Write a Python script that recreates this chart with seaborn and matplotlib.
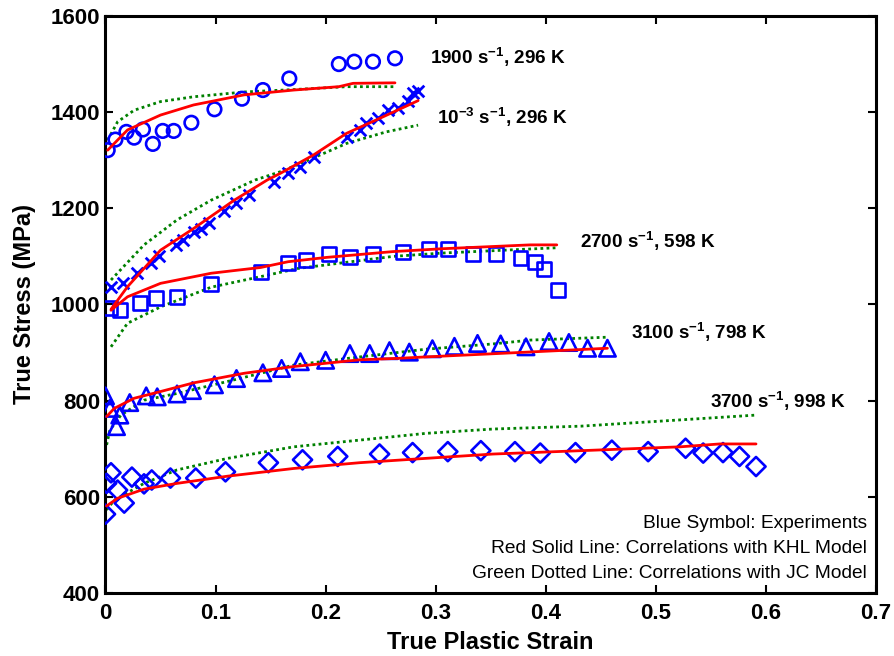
import numpy as np
import pandas as pd
import matplotlib
matplotlib.use("Agg")
import matplotlib.pyplot as plt
import seaborn as sns

# ---------------- data ----------------
# 1900 /s, 296 K
e1900_x = [0.002, 0.009, 0.019, 0.026, 0.034, 0.043, 0.052, 0.062, 0.078, 0.099, 0.124, 0.143, 0.167, 0.212, 0.226, 0.243, 0.263]
e1900_y = [1321, 1343, 1359, 1347, 1364, 1334, 1361, 1361, 1378, 1406, 1428, 1446, 1470, 1500, 1505, 1505, 1512]
k1900_x = [0.002, 0.020, 0.050, 0.080, 0.126, 0.171, 0.212, 0.225, 0.263]
k1900_y = [1321, 1363, 1394, 1415, 1436, 1446, 1453, 1460, 1461]
j1900_x = [0.002, 0.011, 0.026, 0.050, 0.080, 0.126, 0.171, 0.219, 0.263]
j1900_y = [1342, 1380, 1404, 1422, 1432, 1442, 1447, 1453, 1453]

# 1e-3 /s, 296 K
e1m3_x = [0.005, 0.016, 0.029, 0.041, 0.049, 0.064, 0.070, 0.080, 0.087, 0.094, 0.108, 0.119, 0.130, 0.153, 0.166, 0.177, 0.189, 0.219, 0.231, 0.237, 0.248, 0.257, 0.266, 0.275, 0.279, 0.284]
e1m3_y = [1036, 1045, 1066, 1087, 1101, 1124, 1134, 1151, 1158, 1170, 1195, 1212, 1228, 1255, 1273, 1286, 1307, 1349, 1363, 1377, 1387, 1404, 1408, 1424, 1440, 1444]
k1m3_x = [0.005, 0.020, 0.050, 0.080, 0.117, 0.147, 0.159, 0.189, 0.219, 0.249, 0.284]
k1m3_y = [990, 1037, 1113, 1158, 1217, 1259, 1273, 1311, 1356, 1387, 1424]
j1m3_x = [0.005, 0.035, 0.065, 0.096, 0.136, 0.160, 0.189, 0.219, 0.255, 0.284]
j1m3_y = [1051, 1124, 1176, 1217, 1259, 1277, 1305, 1335, 1359, 1373]

# 2700 /s, 598 K
e2700_x = [0.004, 0.013, 0.031, 0.046, 0.065, 0.096, 0.141, 0.166, 0.182, 0.203, 0.222, 0.243, 0.270, 0.294, 0.311, 0.334, 0.355, 0.377, 0.390, 0.398, 0.411]
e2700_y = [992, 989, 1004, 1013, 1015, 1043, 1067, 1086, 1092, 1105, 1098, 1105, 1109, 1115, 1115, 1105, 1105, 1096, 1089, 1073, 1030]
k2700_x = [0.005, 0.020, 0.050, 0.096, 0.141, 0.166, 0.201, 0.261, 0.306, 0.386, 0.410]
k2700_y = [988, 1016, 1044, 1065, 1077, 1089, 1098, 1110, 1116, 1124, 1124]
j2700_x = [0.005, 0.020, 0.050, 0.096, 0.141, 0.175, 0.261, 0.306, 0.410]
j2700_y = [912, 961, 995, 1036, 1058, 1075, 1100, 1107, 1118]

# 3100 /s, 798 K
e3100_x = [0.000, 0.004, 0.010, 0.013, 0.022, 0.037, 0.047, 0.065, 0.079, 0.099, 0.119, 0.143, 0.160, 0.177, 0.200, 0.222, 0.240, 0.258, 0.276, 0.297, 0.317, 0.338, 0.359, 0.382, 0.403, 0.421, 0.438, 0.456]
e3100_y = [810, 784, 746, 770, 796, 810, 808, 814, 821, 833, 846, 858, 867, 881, 884, 898, 898, 904, 901, 908, 913, 919, 918, 912, 923, 921, 909, 909]
k3100_x = [0.001, 0.008, 0.026, 0.050, 0.080, 0.126, 0.171, 0.231, 0.266, 0.291, 0.356, 0.456]
k3100_y = [767, 784, 805, 819, 837, 857, 871, 885, 888, 891, 898, 909]
j3100_x = [0.001, 0.004, 0.014, 0.035, 0.065, 0.111, 0.171, 0.231, 0.291, 0.352, 0.386, 0.456]
j3100_y = [708, 739, 770, 801, 815, 840, 874, 891, 907, 918, 926, 932]

# 3700 /s, 998 K
e3700_x = [0.000, 0.001, 0.005, 0.011, 0.017, 0.024, 0.035, 0.042, 0.059, 0.082, 0.109, 0.148, 0.179, 0.211, 0.249, 0.279, 0.311, 0.341, 0.372, 0.395, 0.427, 0.460, 0.493, 0.527, 0.543, 0.561, 0.576, 0.591]
e3700_y = [564, 628, 650, 614, 587, 641, 627, 635, 639, 639, 652, 671, 677, 684, 689, 692, 694, 696, 694, 691, 692, 697, 694, 701, 691, 692, 684, 663]
k3700_x = [0.001, 0.011, 0.035, 0.065, 0.111, 0.171, 0.231, 0.291, 0.352, 0.432, 0.522, 0.558, 0.591]
k3700_y = [581, 597, 616, 628, 643, 659, 671, 680, 689, 696, 704, 710, 710]
j3700_x = [0.001, 0.008, 0.035, 0.065, 0.111, 0.171, 0.231, 0.291, 0.352, 0.432, 0.522, 0.591]
j3700_y = [573, 593, 628, 656, 680, 704, 718, 732, 741, 747, 760, 770]

x_ticks = [0, 0.1, 0.2, 0.3, 0.4, 0.5, 0.6, 0.7]
x_tick_labels = ["0", "0.1", "0.2", "0.3", "0.4", "0.5", "0.6", "0.7"]
y_ticks = [400, 600, 800, 1000, 1200, 1400, 1600]

curve_labels = [r"1900 s$^{\mathbf{-1}}$, 296 K", r"10$^{\mathbf{-3}}$ s$^{\mathbf{-1}}$, 296 K",
                r"2700 s$^{\mathbf{-1}}$, 598 K", r"3100 s$^{\mathbf{-1}}$, 798 K",
                r"3700 s$^{\mathbf{-1}}$, 998 K"]
label_pos_x = [0.295, 0.301, 0.431, 0.477, 0.549]
label_pos_y = [1513, 1388, 1131, 941, 798]

note_lines = ["Blue Symbol: Experiments",
              "Red Solid Line: Correlations with KHL Model",
              "Green Dotted Line: Correlations with JC Model"]

# ---------------- style ----------------
sns.set_theme(style="white")
plt.rcParams['font.family'] = ['Liberation Sans', 'DejaVu Sans']
plt.rcParams['text.color'] = 'black'
plt.rcParams['axes.labelcolor'] = 'black'
plt.rcParams['xtick.color'] = 'black'
plt.rcParams['ytick.color'] = 'black'
plt.rcParams['mathtext.fontset'] = 'custom'
plt.rcParams['mathtext.rm'] = 'Liberation Sans:bold'
plt.rcParams['mathtext.it'] = 'Liberation Sans:bold'
plt.rcParams['mathtext.bf'] = 'Liberation Sans:bold'

fig = plt.figure(figsize=(8.95, 6.56), dpi=100)
ax = fig.add_axes([105.5 / 895, 1 - 593 / 656, (876 - 105.5) / 895, (593 - 16) / 656])

BLUE = (0, 0, 1)
RED = (1, 0, 0)
GREEN = (0, 0.5, 0)

lw_fit = 2.0
models = [(k1900_x, k1900_y, j1900_x, j1900_y),
          (k1m3_x, k1m3_y, j1m3_x, j1m3_y),
          (k2700_x, k2700_y, j2700_x, j2700_y),
          (k3100_x, k3100_y, j3100_x, j3100_y),
          (k3700_x, k3700_y, j3700_x, j3700_y)]

for kx, ky, jx, jy in models:
    sns.lineplot(x=jx, y=jy, ax=ax, sort=False, estimator=None, color=GREEN,
                 linewidth=lw_fit, dashes=False, legend=False)
    ax.lines[-1].set_dashes((1.0, 1.2))
    ax.lines[-1].set_dash_capstyle('butt')

exps = [(e1900_x, e1900_y, 'o'), (e1m3_x, e1m3_y, 'x'), (e2700_x, e2700_y, 's'),
        (e3100_x, e3100_y, '^'), (e3700_x, e3700_y, 'D')]
sizes = {'o': 95, 'x': 70, 's': 100, '^': 140, 'D': 95}
for ex, ey, m in exps:
    if m == 'x':
        sns.scatterplot(x=ex, y=ey, ax=ax, marker='x', s=sizes[m], color=BLUE,
                        linewidth=2.0, legend=False, zorder=3)
    else:
        sns.scatterplot(x=ex, y=ey, ax=ax, marker=m, s=sizes[m], facecolors='none',
                        edgecolor=BLUE, linewidth=1.9, legend=False, zorder=3)

for kx, ky, jx, jy in models:
    sns.lineplot(x=kx, y=ky, ax=ax, sort=False, estimator=None, color=RED,
                 linewidth=lw_fit, legend=False, zorder=4)

for t, lx, ly in zip(curve_labels, label_pos_x, label_pos_y):
    ax.text(lx, ly, t, fontsize=13.6, fontweight='bold', ha='left', va='center', color='black')

for i, line in enumerate(note_lines):
    ax.text(0.9885, 0.1196 - i * 0.0425, line, transform=ax.transAxes, fontsize=13.8,
            ha='right', va='center', color='black')

ax.set_xlim(0, 0.7)
ax.set_ylim(400, 1600)
ax.set_xticks(x_ticks)
ax.set_xticklabels(x_tick_labels)
ax.set_yticks(y_ticks)
for lab in ax.get_xticklabels() + ax.get_yticklabels():
    lab.set_fontweight('bold')
    lab.set_fontsize(16)
ax.tick_params(axis='both', direction='in', length=6, width=1.5, colors='black',
               top=True, right=True, bottom=True, left=True)
ax.tick_params(axis='x', pad=7)
ax.tick_params(axis='y', pad=4)
for sp in ax.spines.values():
    sp.set_visible(True)
    sp.set_linewidth(2.2)
    sp.set_color('black')

ax.set_xlabel("True Plastic Strain", fontsize=17, fontweight='bold')
ax.set_ylabel("True Stress (MPa)", fontsize=17, fontweight='bold')
ax.xaxis.set_label_coords(0.5, -0.066)
ax.yaxis.set_label_coords(-0.09, 0.5)

fig.savefig("out.png", dpi=100)
